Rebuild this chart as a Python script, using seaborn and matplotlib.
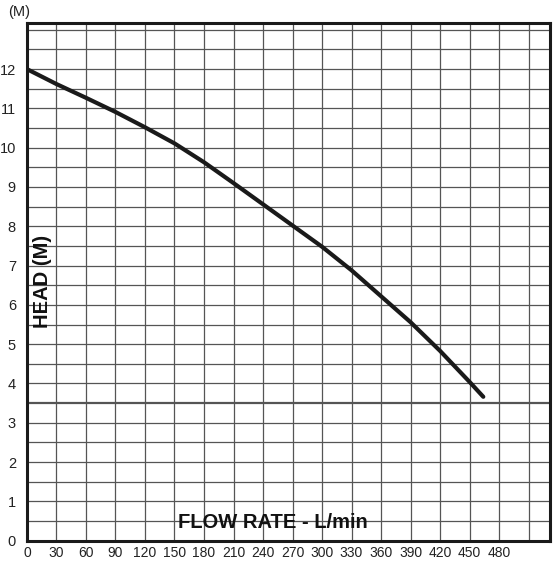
import matplotlib
matplotlib.use("Agg")
import matplotlib.pyplot as plt
import pandas as pd
import seaborn as sns

# pump curve
flow_lpm = [0, 30, 60, 90, 120, 150, 180, 210, 240, 270, 300, 330, 360, 390, 420, 450, 464]
head_m = [12.0, 11.62, 11.27, 10.91, 10.52, 10.11, 9.63, 9.10, 8.56, 8.02, 7.48, 6.88,
          6.22, 5.56, 4.83, 4.04, 3.66]

x_ticks = list(range(0, 481, 30))
y_ticks = list(range(0, 13))
x_grid = list(range(30, 511, 30))
y_grid = [v / 2 for v in range(1, 27)]


def main() -> None:
    sns.set_theme(style="white")
    plt.rcParams["font.family"] = ["Liberation Sans", "DejaVu Sans"]

    df = pd.DataFrame({"flow": flow_lpm, "head": head_m})

    fig = plt.figure(figsize=(5.53, 5.61), dpi=100)
    ax = fig.add_axes([0.0488, 0.0364, 0.945, 0.923])

    for gx in x_grid:
        ax.axvline(gx, color="#555555", lw=0.9, zorder=1)
    for gy in y_grid:
        ax.axhline(gy, color="#555555", lw=1.6 if gy == 3.5 else 0.9, zorder=1)

    sns.lineplot(data=df, x="flow", y="head", ax=ax, color="#1a1a1a", lw=3.0,
                 solid_capstyle="round", solid_joinstyle="round", zorder=3)

    ax.set_xlim(0, 531.4)
    ax.set_ylim(0, 13.18)
    ax.set_xticks(x_ticks)
    ax.set_yticks(y_ticks)
    ax.set_xticklabels([str(v) for v in x_ticks], fontsize=10, color="#222222")
    ax.set_yticklabels([str(v) for v in y_ticks], fontsize=10.5, color="#222222")
    ax.tick_params(axis="x", length=0, pad=4)
    ax.tick_params(axis="y", length=0, pad=8)
    ax.set_xlabel("")
    ax.set_ylabel("")

    for side in ["left", "bottom", "top", "right"]:
        ax.spines[side].set_color("#1a1a1a")
        ax.spines[side].set_linewidth(2.2)
        ax.spines[side].set_zorder(4)

    ax.text(250, 0.45, "FLOW RATE - L/min", ha="center", va="center", fontsize=14.5,
            fontweight="bold", color="#111111", zorder=5)
    ax.text(15.3, 6.6, "HEAD (M)", ha="center", va="center", rotation=90, fontsize=14.5,
            fontweight="bold", color="#111111", zorder=5)
    fig.text(0.034, 0.979, "(M)", ha="center", va="center", fontsize=10.5, color="#222222")

    fig.savefig("out.png", dpi=100)
    plt.close(fig)


if __name__ == "__main__":
    main()
